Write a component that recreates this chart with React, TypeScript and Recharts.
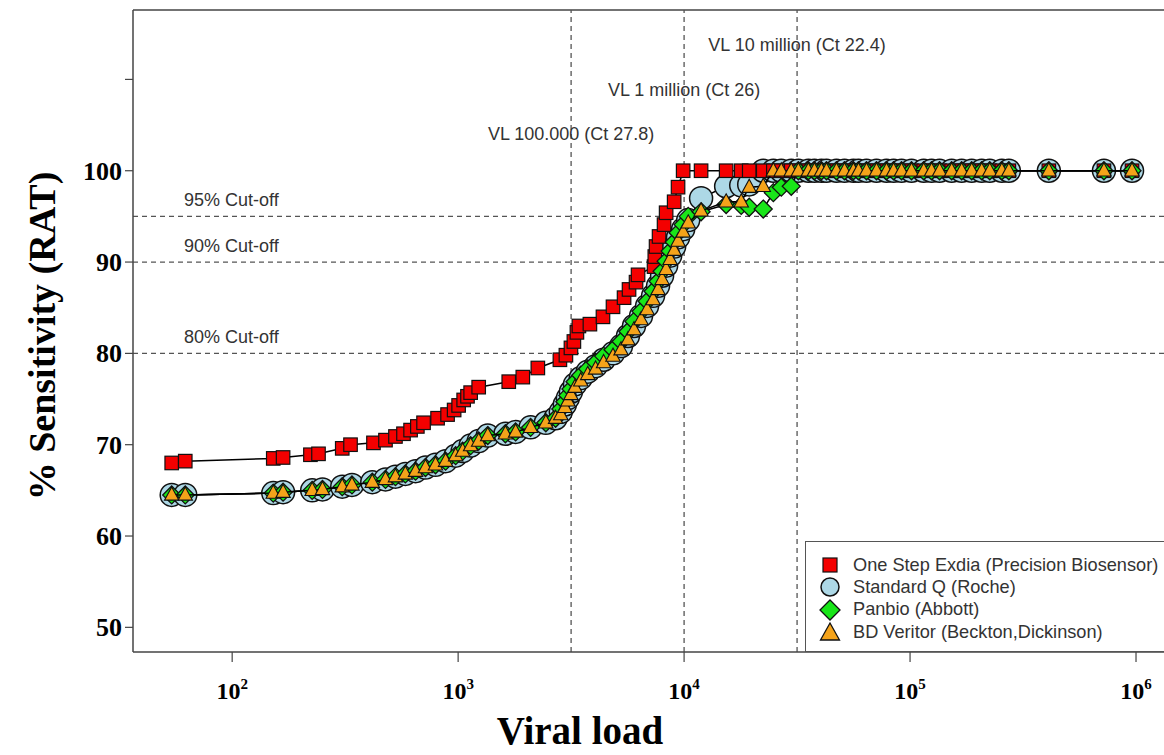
import React from 'react';
import { ScatterChart, Scatter, XAxis, YAxis, ReferenceLine, Legend } from 'recharts';

// ---------- data ----------
const xTicks = [100, 1000, 10000, 100000, 1000000];
const yTicks = [50, 60, 70, 80, 90, 100, 110];
const cutoffLines = [95, 90, 80];
const cutoffLabels = ['95% Cut-off', '90% Cut-off', '80% Cut-off'];
const vlLines = [3162, 10000, 31623];
const vlLabels = ['VL 100.000 (Ct 27.8)', 'VL 1 million (Ct 26)', 'VL 10 million (Ct 22.4)'];

const seriesNames = [
  'One Step Exdia (Precision Biosensor)',
  'Standard Q (Roche)',
  'Panbio (Abbott)',
  'BD Veritor (Beckton,Dickinson)',
];

// One Step Exdia
const exdiaVL = [
  54, 62, 152, 168, 222, 241, 307, 334, 422, 477,
  528, 573, 616, 660, 703, 811, 898, 960, 1005, 1058,
  1100, 1136, 1233, 1675, 1933, 2253, 2821, 2999, 3157, 3253,
  3355, 3424, 3830, 4375, 4846, 5424, 5706, 6128, 6255, 7362,
  7420, 7515, 7749, 8153, 8326, 9036, 9402, 9904, 11890, 15350,
  17900, 19420, 22400, 24830, 26920, 29800, 32040, 35480, 37730, 40530,
  42670, 47230, 51270, 56140, 59130, 64150, 71030, 78650, 84540, 91690,
  101500, 114900, 124500, 135100, 152800, 169200, 187400, 207500, 225300, 254800,
  273700, 411400, 721200, 960200,
];
const exdiaSens = [
  68.0, 68.2, 68.5, 68.6, 68.9, 69.0, 69.6, 70.0, 70.2, 70.5,
  70.9, 71.2, 71.6, 72.0, 72.4, 72.9, 73.3, 73.8, 74.3, 74.9,
  75.3, 75.7, 76.3, 76.9, 77.4, 78.4, 79.3, 79.8, 80.6, 81.3,
  82.3, 83.0, 83.2, 84.0, 85.1, 86.1, 87.0, 87.8, 88.6, 89.5,
  90.6, 91.7, 92.8, 94.1, 95.4, 96.6, 98.2, 100, 100, 100,
  100, 100, 100, 100, 100, 100, 100, 100, 100, 100,
  100, 100, 100, 100, 100, 100, 100, 100, 100, 100,
  100, 100, 100, 100, 100, 100, 100, 100, 100, 100,
  100, 100, 100, 100,
];

// Shared viral-load positions for the other three tests
const otherVL = [
  54, 62, 152, 168, 226, 251, 307, 339, 417, 477,
  528, 584, 648, 717, 794, 880, 975, 1047, 1136, 1233,
  1352, 1619, 1796, 2093, 2444, 2700, 2847, 2967, 3060, 3157,
  3290, 3489, 3746, 4058, 4403, 4846, 5260, 5644, 6002, 6449,
  6859, 7289, 7670, 7991, 8326, 8675, 9036, 9402, 9904, 10430,
  11890, 15350, 17900, 19420, 22400, 24830, 26920, 29800, 32040, 35480,
  37730, 40530, 42670, 47230, 51270, 56140, 59130, 64150, 71030, 78650,
  84540, 91690, 101500, 114900, 124500, 135100, 152800, 169200, 187400, 207500,
  225300, 254800, 273700, 411400, 721200, 960200,
];
const standardQSens = [
  64.5, 64.5, 64.7, 64.8, 65.0, 65.1, 65.4, 65.6, 65.9, 66.2,
  66.5, 66.8, 67.1, 67.5, 67.8, 68.2, 68.8, 69.3, 69.9, 70.4,
  71.0, 71.2, 71.4, 71.9, 72.4, 72.9, 73.6, 74.4, 75.1, 75.8,
  76.6, 77.3, 78.0, 78.6, 79.3, 80.0, 80.8, 81.9, 83.0, 84.1,
  85.2, 86.3, 87.4, 88.5, 89.6, 90.7, 91.7, 92.7, 93.6, 94.6,
  97.0, 98.3, 98.4, 98.5, 100, 100, 100, 100, 100, 100,
  100, 100, 100, 100, 100, 100, 100, 100, 100, 100,
  100, 100, 100, 100, 100, 100, 100, 100, 100, 100,
  100, 100, 100, 100, 100, 100,
];
const panbioSens = [
  64.5, 64.5, 64.7, 64.8, 65.0, 65.1, 65.4, 65.6, 65.9, 66.2,
  66.5, 66.8, 67.1, 67.5, 67.8, 68.2, 68.8, 69.3, 69.9, 70.4,
  71.0, 71.2, 71.4, 71.9, 72.4, 72.9, 73.9, 74.7, 75.4, 76.1,
  76.9, 77.6, 78.3, 79.0, 79.7, 80.4, 81.3, 82.4, 83.5, 84.6,
  85.7, 86.8, 87.9, 89.0, 90.1, 91.2, 92.2, 93.2, 94.1, 95.0,
  95.5, 96.3, 96.2, 96.0, 95.8, 97.6, 98.2, 98.3, 100, 100,
  100, 100, 100, 100, 100, 100, 100, 100, 100, 100,
  100, 100, 100, 100, 100, 100, 100, 100, 100, 100,
  100, 100, 100, 100, 100, 100,
];
const bdVeritorSens = [
  64.5, 64.5, 64.7, 64.8, 65.0, 65.1, 65.4, 65.6, 65.9, 66.2,
  66.5, 66.8, 67.1, 67.5, 67.8, 68.2, 68.8, 69.3, 69.9, 70.4,
  71.0, 71.2, 71.4, 71.9, 72.4, 72.9, 73.3, 74.1, 74.8, 75.5,
  76.3, 77.0, 77.7, 78.3, 79.0, 79.7, 80.4, 81.5, 82.6, 83.7,
  84.8, 85.9, 87.0, 88.1, 89.2, 90.3, 91.3, 92.3, 93.3, 94.3,
  95.6, 96.6, 96.6, 98.2, 98.3, 100, 100, 100, 100, 100,
  100, 100, 100, 100, 100, 100, 100, 100, 100, 100,
  100, 100, 100, 100, 100, 100, 100, 100, 100, 100,
  100, 100, 100, 100, 100, 100,
];

const zip = (xs: number[], ys: number[]) => {
  const n = Math.min(xs.length, ys.length);
  const out: { x: number; y: number }[] = [];
  for (let i = 0; i < n; i++) out.push({ x: xs[i], y: ys[i] });
  return out;
};

const exdiaData = zip(exdiaVL, exdiaSens);
const standardQData = zip(otherVL, standardQSens);
const panbioData = zip(otherVL, panbioSens);
const bdData = zip(otherVL, bdVeritorSens);

// ---------- styles ----------
const RED = '#f40000';
const BLUE = '#add8e6';
const GREEN = '#19e619';
const ORANGE = '#f5a31a';
const SERIF = '"Liberation Serif", "Times New Roman", serif';
const SANS = '"Liberation Sans", Arial, sans-serif';

const SquareMark = ({ cx, cy, s = 13.5 }: any) => (
  <rect x={cx - s / 2} y={cy - s / 2} width={s} height={s} fill={RED} stroke="#111" strokeWidth={1.2} />
);
const CircleMark = ({ cx, cy, r = 11.5 }: any) => (
  <circle cx={cx} cy={cy} r={r} fill={BLUE} stroke="#111" strokeWidth={1.5} />
);
const DiamondMark = ({ cx, cy, r = 9 }: any) => (
  <path d={`M${cx},${cy - r}L${cx + r},${cy}L${cx},${cy + r}L${cx - r},${cy}Z`} fill={GREEN} stroke="#111" strokeWidth={1.3} />
);
const TriangleMark = ({ cx, cy, r = 8 }: any) => (
  <path d={`M${cx},${cy - r}L${cx + r * 0.9},${cy + r * 0.65}L${cx - r * 0.9},${cy + r * 0.65}Z`} fill={ORANGE} stroke="#111" strokeWidth={1.1} />
);

const XTick = (props: any) => {
  const { x, y, payload } = props;
  const exp = Math.round(Math.log10(payload.value));
  return (
    <text x={x} y={y + 37} textAnchor="middle" fontFamily={SERIF} fontWeight="bold" fontSize={24} fill="#000">
      <tspan>10</tspan>
      <tspan dy={-10} fontSize={15}>{exp}</tspan>
    </text>
  );
};

const YTick = (props: any) => {
  const { x, y, payload } = props;
  if (payload.value === 110) return null;
  return (
    <text x={x} y={y} dy={9} textAnchor="end" fontFamily={SERIF} fontWeight="bold" fontSize={26} fill="#000">
      {payload.value}
    </text>
  );
};

const HLabel = ({ viewBox, text }: any) => {
  if (!viewBox) return null;
  return (
    <text x={viewBox.x + 51} y={viewBox.y - 10} fontFamily={SANS} fontSize={18} fill="#333">
      {text}
    </text>
  );
};

const VLabel = ({ viewBox, text, dy }: any) => {
  if (!viewBox) return null;
  return (
    <text x={viewBox.x} y={viewBox.y + dy} textAnchor="middle" fontFamily={SANS} fontSize={18} fill="#333">
      {text}
    </text>
  );
};

const XTitle = ({ viewBox }: any) => {
  if (!viewBox) return null;
  return (
    <text x={viewBox.x + 447} y={viewBox.y + 92} textAnchor="middle" fontFamily={SERIF} fontWeight="bold" fontSize={39} fill="#000">
      Viral load
    </text>
  );
};

const YTitle = ({ viewBox }: any) => {
  if (!viewBox) return null;
  const cx = 55;
  const cy = viewBox.y + 326;
  return (
    <text
      x={cx}
      y={cy}
      transform={`rotate(-90, ${cx}, ${cy})`}
      textAnchor="middle"
      fontFamily={SERIF}
      fontWeight="bold"
      fontSize={38}
      fill="#000"
    >
      % Sensitivity (RAT)
    </text>
  );
};

const LegendBox = () => {
  const icons = [
    <rect key="a" x={3} y={3} width={14} height={14} fill={RED} stroke="#111" strokeWidth={1.2} />,
    <circle key="b" cx={10} cy={10} r={9} fill={BLUE} stroke="#111" strokeWidth={1.5} />,
    <path key="c" d="M10,0L20,10L10,20L0,10Z" fill={GREEN} stroke="#111" strokeWidth={1.3} />,
    <path key="d" d="M10,1L19.5,18L0.5,18Z" fill={ORANGE} stroke="#111" strokeWidth={1.3} />,
  ];
  return (
    <div
      style={{
        width: 372,
        height: 111,
        boxSizing: 'border-box',
        border: '1.5px solid #555',
        background: '#fff',
        padding: '12px 0 0 13px',
      }}
    >
      {seriesNames.map((n, i) => (
        <div key={n} style={{ display: 'flex', alignItems: 'center', height: 22.3 }}>
          <svg width={22} height={22} viewBox="-1 -1 22 22" style={{ marginRight: 12 }}>
            {icons[i]}
          </svg>
          <span style={{ fontFamily: SANS, fontSize: 18.2, color: '#333', whiteSpace: 'nowrap' }}>{n}</span>
        </div>
      ))}
    </div>
  );
};

export default function App() {
  return (
    <div style={{ position: 'absolute', left: 0, top: 0, width: 1164, height: 755, background: '#fff' }}>
      <ScatterChart width={1164} height={755} margin={{ top: 10, right: 0, bottom: 0, left: 0 }}>
        <XAxis
          dataKey="x"
          type="number"
          scale="log"
          domain={[36.4, 1330000]}
          allowDataOverflow
          ticks={xTicks}
          tick={<XTick />}
          tickSize={10}
          tickMargin={0}
          height={103}
          axisLine={{ stroke: '#444', strokeWidth: 1.5 }}
          tickLine={{ stroke: '#444', strokeWidth: 1.2 }}
          label={<XTitle />}
        />
        <YAxis
          dataKey="y"
          type="number"
          domain={[47.3, 117.6]}
          allowDataOverflow
          ticks={yTicks}
          tick={<YTick />}
          tickSize={8}
          tickMargin={3}
          width={133}
          axisLine={{ stroke: '#444', strokeWidth: 1.5 }}
          tickLine={{ stroke: '#444', strokeWidth: 1.2 }}
          label={<YTitle />}
        />
        <ReferenceLine y={117.6} stroke="#444" strokeWidth={1.5} />
        {cutoffLines.map((v, i) => (
          <ReferenceLine
            key={'h' + v}
            y={v}
            stroke="#555"
            strokeWidth={1.3}
            strokeDasharray="5 4"
            label={<HLabel text={cutoffLabels[i]} />}
          />
        ))}
        {vlLines.map((v, i) => (
          <ReferenceLine
            key={'v' + v}
            x={v}
            stroke="#555"
            strokeWidth={1.3}
            strokeDasharray="5 4"
            label={<VLabel text={vlLabels[i]} dy={[130, 86, 41][i]} />}
          />
        ))}
        <Scatter
          name={seriesNames[1]}
          data={standardQData}
          line={{ stroke: '#000', strokeWidth: 1.5 }}
          shape={(p: any) => <CircleMark cx={p.cx} cy={p.cy} />}
          isAnimationActive={false}
        />
        <Scatter
          name={seriesNames[0]}
          data={exdiaData}
          line={{ stroke: '#000', strokeWidth: 1.5 }}
          shape={(p: any) => <SquareMark cx={p.cx} cy={p.cy} />}
          isAnimationActive={false}
        />
        <Scatter
          name={seriesNames[2]}
          data={panbioData}
          line={{ stroke: '#000', strokeWidth: 1.5 }}
          shape={(p: any) => <DiamondMark cx={p.cx} cy={p.cy} />}
          isAnimationActive={false}
        />
        <Scatter
          name={seriesNames[3]}
          data={bdData}
          line={{ stroke: '#000', strokeWidth: 1.5 }}
          shape={(p: any) => <TriangleMark cx={p.cx} cy={p.cy} />}
          isAnimationActive={false}
        />
        <Legend
          layout="vertical"
          align="center"
          verticalAlign="middle"
          wrapperStyle={{ left: 805, top: 541, width: 372, height: 111 }}
          content={() => <LegendBox />}
        />
      </ScatterChart>
    </div>
  );
}
